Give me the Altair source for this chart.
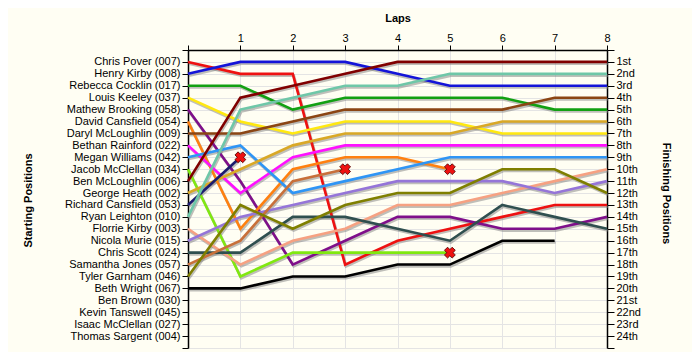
import altair as alt
import pandas as pd

LAPS = [0, 1, 2, 3, 4, 5, 6, 7, 8]

DRIVERS = [
    "Chris Pover (007)", "Henry Kirby (008)", "Rebecca Cocklin (017)",
    "Louis Keeley (037)", "Mathew Brooking (058)", "David Cansfield (054)",
    "Daryl McLoughlin (009)", "Bethan Rainford (022)", "Megan Williams (042)",
    "Jacob McClellan (034)", "Ben McLoughlin (006)", "George Heath (002)",
    "Richard Cansfield (053)", "Ryan Leighton (010)", "Florrie Kirby (003)",
    "Nicola Murie (015)", "Chris Scott (024)", "Samantha Jones (057)",
    "Tyler Garnham (046)", "Beth Wright (067)", "Ben Brown (030)",
    "Kevin Tanswell (045)", "Isaac McClellan (027)", "Thomas Sargent (004)",
]

ORDINALS = [
    "1st", "2nd", "3rd", "4th", "5th", "6th", "7th", "8th", "9th", "10th",
    "11th", "12th", "13th", "14th", "15th", "16th", "17th", "18th", "19th",
    "20th", "21st", "22nd", "23rd", "24th",
]

LINE_COLORS = [
    "#EE1111", "#1414D8", "#12A012", "#FFE810", "#7F0F8A", "#FF8010",
    "#8B4513", "#FF10FF", "#2E95F5", "#80E810", "#800000", "#D9A826",
    "#1C1C6E", "#6FC7A8", "#F6A182", "#9575D8", "#2F4F4F", "#C8703A",
    "#7F7F00", "#000000",
]

# race position after each lap (lap 0 = start), None = not running
POSITIONS = [
    [1, 2, 2, 18, 16, 15, 14, 13, 13],          # Chris Pover
    [2, 1, 1, 1, 2, 3, 3, 3, 3],                # Henry Kirby
    [3, 3, 5, 4, 4, 4, 4, 5, 5],                # Rebecca Cocklin
    [4, 6, 7, 6, 6, 6, 7, 7, 7],                # Louis Keeley
    [5, 11, 18, 16, 14, 14, 15, 15, 14],        # Mathew Brooking
    [6, 15, 10, 9, 9, 10, None, None, None],    # David Cansfield
    [7, 7, 6, 5, 5, 5, 5, 4, 4],                # Daryl McLoughlin
    [8, 12, 9, 8, 8, 8, 8, 8, 8],               # Bethan Rainford
    [9, 8, 12, 11, 10, 9, 9, 9, 9],             # Megan Williams
    [10, 19, 17, 17, 17, 17, None, None, None], # Jacob McClellan
    [11, 4, 3, 2, 1, 1, 1, 1, 1],               # Ben McLoughlin
    [12, 10, 8, 7, 7, 7, 6, 6, 6],              # George Heath
    [13, 9, None, None, None, None, None, None, None],  # Richard Cansfield
    [14, 5, 4, 3, 3, 2, 2, 2, 2],               # Ryan Leighton
    [15, 18, 16, 15, 13, 13, 12, 11, 10],       # Florrie Kirby
    [16, 14, 13, 12, 11, 11, 11, 12, 11],       # Nicola Murie
    [17, 17, 14, 14, 15, 16, 13, 14, 15],       # Chris Scott
    [18, 16, 11, 10, None, None, None, None, None],  # Samantha Jones
    [19, 13, 15, 13, 12, 12, 10, 10, 12],       # Tyler Garnham
    [20, 20, 19, 19, 18, 18, 16, 16, None],     # Beth Wright
]

RETIRED = [
    "David Cansfield (054)", "Jacob McClellan (034)",
    "Richard Cansfield (053)", "Samantha Jones (057)",
]

rows = []
marks = []
for name, pos_list in zip(DRIVERS, POSITIONS):
    last = None
    for lap, p in zip(LAPS, pos_list):
        if p is not None:
            rows.append({"driver": name, "lap": lap, "pos": p})
            last = (lap, p)
    if name in RETIRED and last is not None:
        marks.append({"driver": name, "lap": last[0], "pos": last[1]})

df = pd.DataFrame(rows)
df_x = pd.DataFrame(marks)

FONT = "Liberation Sans"
GRID = "#E4E4E4"

names_js = "[" + ",".join("'" + n + "'" for n in [""] + DRIVERS + [""]) + "]"
ord_js = "[" + ",".join("'" + n + "'" for n in [""] + ORDINALS + [""]) + "]"

x_enc = alt.X(
    "lap:Q",
    scale=alt.Scale(domain=[0, 8], nice=False, zero=False),
    axis=alt.Axis(
        orient="top", values=LAPS,
        labelExpr="datum.value == 0 ? '' : datum.label",
        title="Laps", titleX=209.5, titleY=-32, titleBaseline="middle",
        titleAlign="center",
        tickSize=5, labelPadding=2, labelFlush=False, labelAngle=0,
        grid=True, gridColor=GRID,
        domainColor="black", domainWidth=1.5, tickColor="black",
    ),
)

y_scale = alt.Scale(domain=[0, 25], reverse=True, nice=False, zero=False)

y_left = alt.Y(
    "pos:Q", scale=y_scale,
    axis=alt.Axis(
        orient="left", values=list(range(26)),
        labelExpr=names_js + "[datum.value]",
        labelOverlap=False, labelFlush=False,
        title="Starting Positions", titleAngle=-90, titleX=-160, titleY=150,
        titleAlign="center", titleBaseline="middle",
        tickSize=6, labelPadding=2,
        grid=True, gridColor=GRID,
        domainColor="black", domainWidth=1.5, tickColor="black",
    ),
)

y_right = alt.Y(
    "pos:Q", scale=y_scale,
    axis=alt.Axis(
        orient="right", values=list(range(26)),
        labelExpr=ord_js + "[datum.value]",
        labelOverlap=False, labelFlush=False,
        title="Finishing Positions", titleAngle=90, titleX=58, titleY=143,
        titleAlign="center", titleBaseline="middle",
        tickSize=7, labelPadding=2, grid=False,
        domainColor="black", domainWidth=1.5, tickColor="black",
    ),
)

base = alt.Chart(df)

shadow = base.mark_line(
    stroke="#808080", strokeWidth=2.8, opacity=0.5, xOffset=1, yOffset=1.7
).encode(x=x_enc, y=y_left, detail="driver:N", order="lap:Q")

lines = base.mark_line(strokeWidth=2.6).encode(
    x=x_enc, y=y_left,
    color=alt.Color(
        "driver:N",
        scale=alt.Scale(domain=DRIVERS[:len(LINE_COLORS)], range=LINE_COLORS),
        legend=None,
    ),
    order="lap:Q",
)

crosses = alt.Chart(df_x).mark_point(
    shape="cross", angle=45, filled=True, fill="#EE1111", stroke="#500000",
    strokeWidth=0.8, size=120, opacity=1,
).encode(x=x_enc, y=y_left)

inner = alt.layer(shadow, lines, crosses)

right = alt.Chart(df_x).mark_point(opacity=0).encode(x=x_enc, y=y_right)

chart = alt.layer(inner, right).resolve_scale(y="independent").properties(
    width=419, height=298,
    autosize=alt.AutoSizeParams(type="none"),
    padding={"left": 180, "top": 42, "right": 85, "bottom": 4},
    background="#FFFEF3",
).configure_axis(
    labelFont=FONT, labelFontSize=11, labelColor="black",
    titleFont=FONT, titleFontSize=11, titleFontWeight="bold", titleColor="black",
).configure_view(stroke=None)

chart.save("out.html", embed_options={"renderer": "svg", "actions": False})
